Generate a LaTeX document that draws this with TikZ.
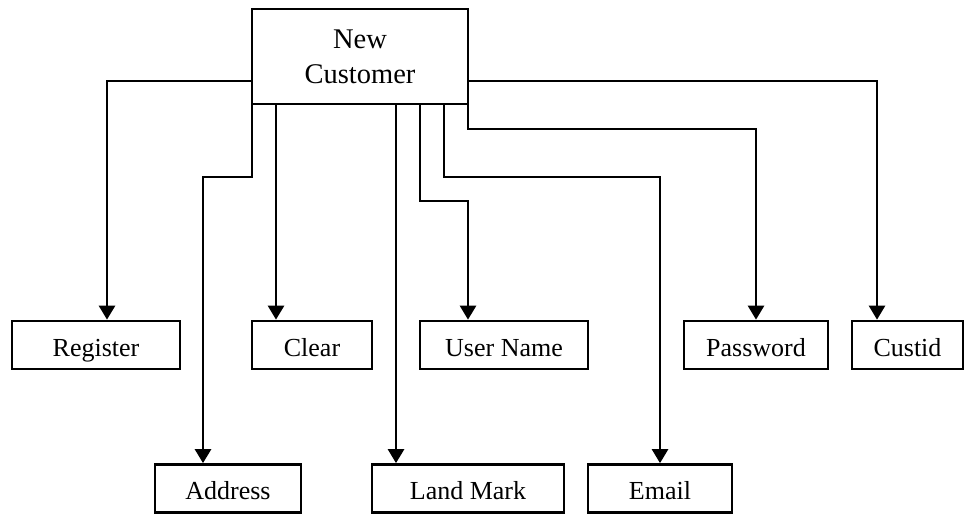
\documentclass[tikz,border=0pt]{standalone}
\usepackage{fontspec}
\setmainfont{Liberation Serif}
\usetikzlibrary{arrows.meta}
\begin{document}
\begin{tikzpicture}[x=1pt,y=-1pt,
  box/.style={draw,line width=2.7pt,inner sep=0pt,minimum height=48pt,
    font=\fontsize{26}{30}\selectfont,text height=22pt,text depth=0pt},
  conn/.style={draw,line width=2.6pt,-{Triangle[length=14pt,width=16pt]}}]
\useasboundingbox (0,0) rectangle (965,514);
\node[draw,line width=2.7pt,inner sep=0pt,outer sep=0pt,minimum width=216pt,minimum height=95pt,
  align=center,font=\fontsize{28.5}{35}\selectfont] (nc) at (360,56.5) {New\\Customer};
% row 1
\node[box,minimum width=168pt] (reg) at (96,345) {Register};
\node[box,minimum width=120pt] (clr) at (312,345) {Clear};
\node[box,minimum width=168pt] (un) at (504,345) {User Name};
\node[box,minimum width=144pt] (pw) at (756,345) {Password};
\node[box,minimum width=111pt] (cid) at (907.5,345) {Custid};
% row 2
\node[box,minimum width=146pt] (addr) at (228,488.5) {Address};
\node[box,minimum width=192pt] (lm) at (468,488.5) {Land Mark};
\node[box,minimum width=144pt] (em) at (660,488.5) {Email};
% connectors
\draw[conn] (nc.west |- 0,81) -| (107,0 |- reg.north);
\draw[conn] (276,0 |- nc.south) -- (276,0 |- clr.north);
\draw[conn] (nc.west) |- (203,177) -- (203,0 |- addr.north);
\draw[conn] (396,0 |- nc.south) -- (396,0 |- lm.north);
\draw[conn] (420,0 |- nc.south) |- (468,201) -- (468,0 |- un.north);
\draw[conn] (444,0 |- nc.south) |- (660,177) -- (em.north);
\draw[conn] (nc.east) |- (756,129) -- (pw.north);
\draw[conn] (nc.east |- 0,81) -| (877,0 |- cid.north);
\end{tikzpicture}
\end{document}
